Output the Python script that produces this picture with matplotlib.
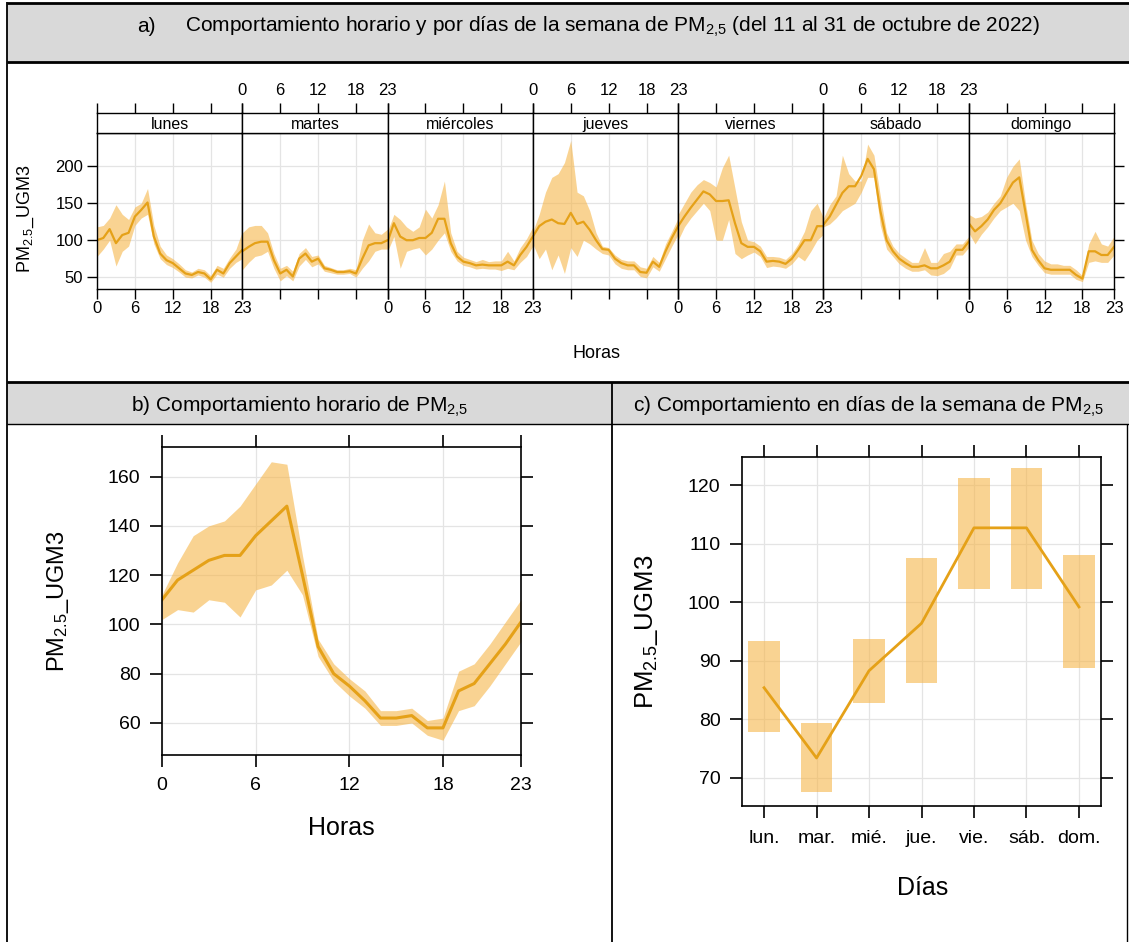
import matplotlib
matplotlib.use("Agg")
import matplotlib.pyplot as plt
from matplotlib.lines import Line2D
from matplotlib.patches import Rectangle
import numpy as np

plt.rcParams['font.family'] = ['Liberation Sans', 'DejaVu Sans']
plt.rcParams['mathtext.fontset'] = 'custom'
plt.rcParams['mathtext.rm'] = 'Liberation Sans'
plt.rcParams['mathtext.it'] = 'Liberation Sans:italic'
plt.rcParams['mathtext.bf'] = 'Liberation Sans:bold'

# ------------------------------------------------------------------ #
# Datos
# ------------------------------------------------------------------ #
HORAS = list(range(24))
DIAS = ["lunes", "martes", "miércoles", "jueves", "viernes", "sábado", "domingo"]

lunes_media = [100, 103, 115, 96, 107, 110, 132, 141, 151, 105, 82, 73, 69, 62, 55, 53, 57, 55, 47, 60, 55, 69, 78, 87]
lunes_sup = [118, 120, 130, 148, 135, 128, 145, 150, 170, 120, 92, 80, 75, 68, 60, 57, 62, 60, 52, 66, 62, 76, 88, 112]
lunes_inf = [78, 88, 100, 65, 85, 92, 120, 130, 135, 95, 75, 67, 63, 57, 50, 49, 53, 50, 43, 54, 50, 62, 70, 75]

martes_media = [85, 91, 96, 98, 98, 73, 55, 60, 51, 75, 82, 71, 75, 62, 60, 57, 57, 58, 55, 75, 93, 96, 96, 100]
martes_sup = [110, 118, 120, 120, 110, 82, 62, 66, 58, 82, 90, 78, 80, 66, 63, 60, 60, 62, 60, 100, 122, 110, 108, 115]
martes_inf = [60, 70, 78, 80, 85, 62, 45, 52, 45, 65, 74, 64, 68, 58, 56, 54, 54, 55, 50, 62, 72, 85, 88, 88]

miercoles_media = [98, 123, 105, 100, 100, 103, 103, 110, 129, 129, 96, 78, 71, 69, 66, 67, 66, 66, 66, 71, 66, 80, 91, 105]
miercoles_sup = [112, 135, 128, 118, 112, 118, 142, 130, 148, 180, 110, 85, 77, 74, 71, 74, 71, 72, 72, 85, 72, 90, 102, 118]
miercoles_inf = [85, 105, 62, 85, 88, 90, 80, 88, 100, 110, 85, 72, 66, 64, 61, 62, 61, 61, 59, 62, 60, 70, 78, 92]

jueves_media = [105, 119, 125, 128, 123, 122, 137, 122, 125, 114, 100, 88, 87, 75, 69, 66, 66, 57, 56, 71, 64, 85, 103, 119]
jueves_sup = [112, 135, 165, 185, 190, 205, 235, 165, 160, 140, 110, 92, 90, 80, 74, 72, 72, 64, 62, 78, 70, 95, 112, 130]
jueves_inf = [95, 75, 88, 60, 80, 55, 90, 78, 100, 95, 88, 82, 80, 68, 62, 60, 60, 51, 49, 64, 58, 75, 92, 108]

viernes_media = [119, 132, 144, 155, 166, 162, 153, 153, 154, 123, 96, 91, 91, 85, 71, 72, 71, 68, 75, 87, 100, 100, 119, 119]
viernes_sup = [135, 150, 165, 175, 182, 178, 172, 198, 215, 170, 125, 100, 98, 92, 78, 78, 77, 74, 82, 95, 112, 140, 150, 130]
viernes_inf = [100, 118, 130, 140, 150, 140, 100, 100, 128, 82, 75, 80, 84, 78, 63, 65, 64, 62, 68, 78, 72, 85, 100, 108]

sabado_media = [121, 132, 148, 164, 173, 173, 187, 210, 196, 140, 100, 85, 75, 69, 64, 64, 66, 62, 62, 66, 71, 87, 87, 98]
sabado_sup = [130, 148, 160, 215, 190, 180, 180, 230, 215, 160, 110, 92, 82, 76, 70, 70, 90, 70, 70, 82, 85, 95, 95, 105]
sabado_inf = [118, 122, 130, 140, 145, 150, 165, 185, 185, 120, 88, 78, 68, 62, 58, 58, 60, 53, 52, 55, 62, 80, 80, 90]

domingo_media = [123, 112, 119, 128, 141, 150, 164, 178, 185, 137, 87, 73, 62, 60, 60, 60, 60, 53, 48, 85, 85, 80, 80, 91]
domingo_sup = [135, 130, 132, 138, 150, 160, 185, 200, 210, 150, 100, 82, 72, 68, 68, 66, 66, 60, 52, 95, 112, 95, 92, 105]
domingo_inf = [110, 95, 108, 118, 130, 140, 145, 150, 140, 100, 78, 66, 56, 54, 54, 54, 54, 47, 44, 70, 72, 70, 70, 80]

# b) promedio horario
b_media = [110, 118, 122, 126, 128, 128, 136, 142, 148, 120, 91, 80, 75, 69, 62, 62, 63, 58, 58, 73, 76, 84, 92, 101]
b_sup = [112, 125, 136, 140, 142, 148, 157, 166, 165, 128, 94, 84, 78, 73, 65, 65, 66, 61, 62, 81, 84, 92, 101, 110]
b_inf = [102, 106, 105, 110, 109, 103, 114, 116, 122, 112, 87, 77, 71, 66, 59, 59, 60, 55, 53, 65, 67, 75, 84, 93]

# c) promedio por dia de la semana
c_dias = ["lun.", "mar.", "mié.", "jue.", "vie.", "sáb.", "dom."]
c_media = [85.4, 73.4, 88.3, 96.4, 112.7, 112.7, 99.2]
c_inf = [77.9, 67.6, 82.8, 86.2, 102.3, 102.3, 88.7]
c_sup = [93.4, 79.4, 93.8, 107.5, 121.2, 122.9, 108.0]

MEDIAS = [lunes_media, martes_media, miercoles_media, jueves_media, viernes_media, sabado_media, domingo_media]
SUPS = [lunes_sup, martes_sup, miercoles_sup, jueves_sup, viernes_sup, sabado_sup, domingo_sup]
INFS = [lunes_inf, martes_inf, miercoles_inf, jueves_inf, viernes_inf, sabado_inf, domingo_inf]

# ------------------------------------------------------------------ #
# Estilo / helpers en pixeles
# ------------------------------------------------------------------ #
W, H = 1129, 942
LINE = '#E5A118'
BAND = '#F6B444'
BAND_ALPHA = 0.58
GRID = '#E4E4E4'
GRAY = '#D9D9D9'
YLAB = "PM$_{\\mathrm{2.5}}$_UGM3"
PM25 = "PM$_{\\mathrm{2{,}5}}$"


def caja(l, t, r, b):
    return [l / W, 1 - b / H, (r - l) / W, (b - t) / H]


def linea(fig, x0, y0, x1, y1, lw):
    fig.add_artist(Line2D([x0 / W, x1 / W], [1 - y0 / H, 1 - y1 / H], color='black',
                          lw=lw, transform=fig.transFigure, solid_capstyle='butt'))


def fondo(fig, l, t, r, b):
    fig.add_artist(Rectangle((l / W, 1 - b / H), (r - l) / W, (b - t) / H, facecolor=GRAY,
                             edgecolor='none', transform=fig.transFigure, zorder=0))


def texto(fig, x, y, s, size, ha='center', va='center', **kw):
    fig.text(x / W, 1 - y / H, s, fontsize=size, ha=ha, va=va, **kw)


fig = plt.figure(figsize=(W / 100, H / 100), dpi=100)

# ------------------------------------------------------------------ #
# Marco tipo tabla
# ------------------------------------------------------------------ #
fondo(fig, 7, 3, W, 62)
fondo(fig, 7, 382, W, 424)
linea(fig, 7, 3, W, 3, 2.0)
linea(fig, 7, 62, W, 62, 2.0)
linea(fig, 7, 2, 7, 382, 1.3)
linea(fig, 7, 382, W, 382, 2.0)
linea(fig, 7, 424, W, 424, 1.0)
linea(fig, 7, 382, 7, 942, 1.3)
linea(fig, 612, 382, 612, 942, 1.3)
linea(fig, 1127, 424, 1127, 942, 1.0)

texto(fig, 137, 31.5, "a)", 15, ha='left', va='baseline')
texto(fig, 185, 31.5, "Comportamiento horario y por días de la semana de " + PM25 +
      " (del 11 al 31 de octubre de 2022)", 15, ha='left', va='baseline')
texto(fig, 300, 411.5, "b) Comportamiento horario de " + PM25, 15, va='baseline')
texto(fig, 868, 411.5, "c) Comportamiento en días de la semana de " + PM25, 15, va='baseline')

# ------------------------------------------------------------------ #
# a) paneles por dia (estilo lattice)
# ------------------------------------------------------------------ #
izq, der = 97, 1114
ancho = (der - izq) / 7
for i, dia in enumerate(DIAS):
    l = izq + i * ancho
    ax = fig.add_axes(caja(l, 133, l + ancho, 289))
    ax.fill_between(HORAS, INFS[i], SUPS[i], color=BAND, alpha=BAND_ALPHA, lw=0)
    ax.plot(HORAS, MEDIAS[i], color=LINE, lw=1.6)
    ax.set_xlim(0, 23)
    ax.set_ylim(34, 245)
    ax.set_xticks([0, 6, 12, 18, 23])
    ax.set_yticks([50, 100, 150, 200])
    ax.grid(True, color=GRID, lw=0.9)
    ax.set_axisbelow(True)
    for s in ax.spines.values():
        s.set_linewidth(1.0)
    ax.tick_params(direction='out', length=7.5, width=1.0, labelsize=12, pad=1)
    ax.tick_params(axis='x', top=False, labelbottom=(i % 2 == 0))
    ax.tick_params(axis='y', left=(i == 0), labelleft=(i == 0), right=(i == 6),
                   labelright=False, pad=3, length=7)

    strip = fig.add_axes(caja(l, 113, l + ancho, 133))
    strip.set_xlim(0, 23)
    strip.set_xticks([0, 6, 12, 18, 23])
    strip.set_yticks([])
    for s in strip.spines.values():
        s.set_linewidth(1.0)
    strip.tick_params(axis='x', bottom=False, labelbottom=False, top=True, labeltop=(i % 2 == 1),
                      direction='out', length=7, width=1.0, labelsize=12, pad=4)
    strip.text(0.5, 0.42, dia, transform=strip.transAxes, ha='center', va='center', fontsize=11.5)

texto(fig, 26, 219, YLAB, 13, rotation=90)
texto(fig, 597, 353, "Horas", 13)

# ------------------------------------------------------------------ #
# b) comportamiento horario
# ------------------------------------------------------------------ #
axb = fig.add_axes(caja(162, 447, 521, 755))
axb.fill_between(HORAS, b_inf, b_sup, color=BAND, alpha=BAND_ALPHA, lw=0)
axb.plot(HORAS, b_media, color=LINE, lw=2.2)
axb.set_xlim(0, 23)
axb.set_ylim(47, 172)
axb.set_xticks([0, 6, 12, 18, 23])
axb.set_yticks([60, 80, 100, 120, 140, 160])
axb.grid(True, color=GRID, lw=0.9)
axb.set_axisbelow(True)
for s in axb.spines.values():
    s.set_linewidth(1.2)
axb.tick_params(direction='out', length=8.5, width=1.2, labelsize=14, pad=7,
                top=True, right=True, labeltop=False, labelright=False)
texto(fig, 58, 601, YLAB, 17, rotation=90)
texto(fig, 341, 828, "Horas", 18)

# ------------------------------------------------------------------ #
# c) comportamiento por dia de la semana
# ------------------------------------------------------------------ #
pos = np.arange(1, len(c_dias) + 1)
axc = fig.add_axes(caja(742, 457, 1101, 806))
axc.bar(pos, np.array(c_sup) - np.array(c_inf), bottom=c_inf, width=0.6,
        color=BAND, alpha=BAND_ALPHA, lw=0)
axc.plot(pos, c_media, color=LINE, lw=2.0)
axc.set_xlim(0.58, 7.42)
axc.set_ylim(65.2, 124.8)
axc.set_xticks(pos, labels=c_dias)
axc.set_yticks([70, 80, 90, 100, 110, 120])
axc.grid(True, color=GRID, lw=0.9)
axc.set_axisbelow(True)
for s in axc.spines.values():
    s.set_linewidth(1.2)
axc.tick_params(direction='out', length=8.5, width=1.2, labelsize=14, pad=7,
                top=True, right=True, labeltop=False, labelright=False)
axc.tick_params(axis='x', pad=9)
texto(fig, 647, 632, YLAB, 18.5, rotation=90)
texto(fig, 923, 888, "Días", 18)

fig.savefig("out.png", dpi=100)
